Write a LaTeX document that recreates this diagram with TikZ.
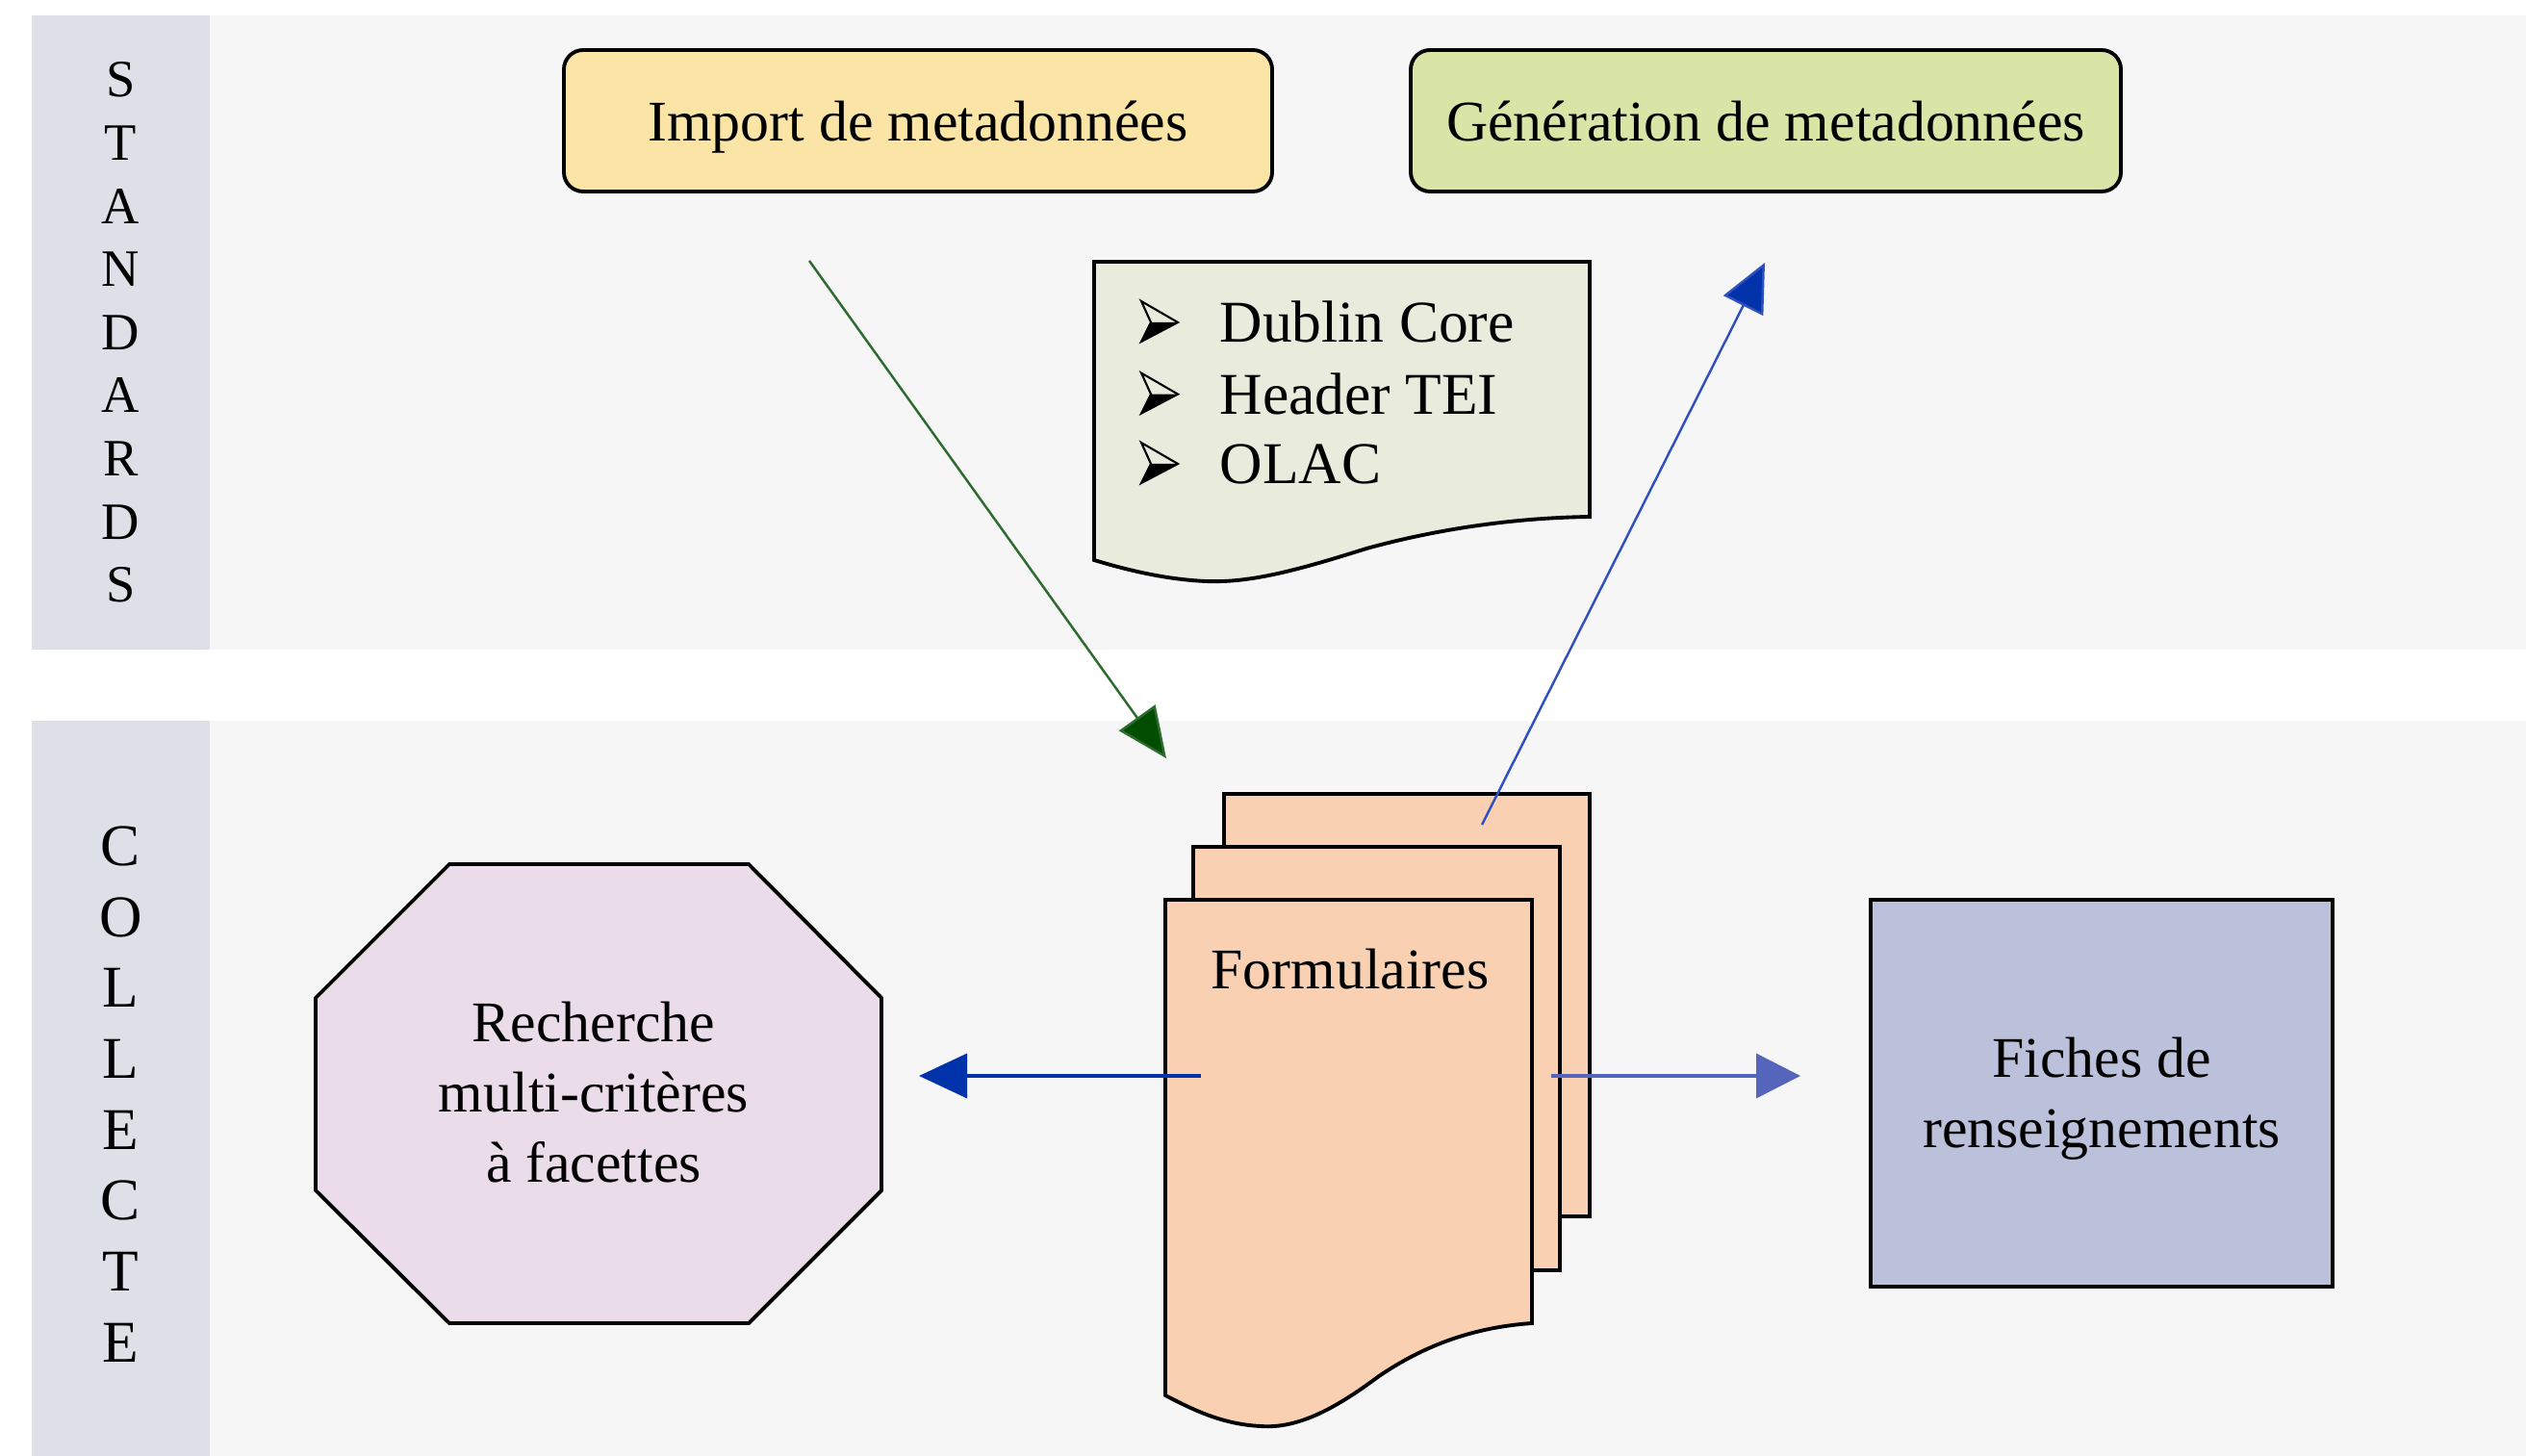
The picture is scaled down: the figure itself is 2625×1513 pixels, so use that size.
\documentclass[tikz,border=0pt]{standalone}
\usepackage{fontspec}
\setmainfont{Liberation Serif}
\usetikzlibrary{arrows.meta}
\definecolor{bandgray}{HTML}{F6F6F6}
\definecolor{colgray}{HTML}{DDE0E6}
\definecolor{importfill}{HTML}{FAE5A6}
\definecolor{genfill}{HTML}{D9E4A7}
\definecolor{docfill}{HTML}{E9EBDD}
\definecolor{formfill}{HTML}{F9D1B2}
\definecolor{octfill}{HTML}{EBDCEA}
\definecolor{fichefill}{HTML}{BCC1DB}
\definecolor{headgreen}{HTML}{004D00}
\definecolor{linegreen}{HTML}{2E6B2E}
\definecolor{headblue}{HTML}{0033AA}
\definecolor{lineblue}{HTML}{3050C0}
\definecolor{lightblue}{HTML}{5565BC}
\begin{document}
\begin{tikzpicture}[x=0.01cm,y=-0.01cm,
  shapeline/.style={draw=black,line width=1.1pt},
  lbl/.style={font=\fontsize{17}{20.8}\selectfont,inner sep=0pt,text=black},
  listlbl/.style={font=\fontsize{17.5}{21}\selectfont,inner sep=0pt,text=black},
  sidelbl/.style={inner sep=0pt,align=center,text=black},
  conn/.style={line width=0.7pt}
]
\fill[white] (0,0) rectangle (2625,1513);
\useasboundingbox (0,0) rectangle (2625,1513);
% bands
\fill[bandgray] (33,16) rectangle (2625,675);
\fill[bandgray] (33,749) rectangle (2625,1513);
\fill[colgray] (33,16) rectangle (218,675);
\fill[colgray] (33,749) rectangle (218,1513);
\node[sidelbl,font=\fontsize{15.5}{18.65}\selectfont] (standards) at (125.5,345.5) {S\\T\\A\\N\\D\\A\\R\\D\\S};
\node[sidelbl,font=\fontsize{17.5}{20.95}\selectfont] (collecte) at (125.5,1137) {C\\O\\L\\L\\E\\C\\T\\E};
% top boxes
\draw[shapeline,fill=importfill,rounded corners=0.2cm] (586,52) rectangle (1322,199);
\node[lbl,anchor=base] (import) at (954,147) {Import de metadonnées};
\draw[shapeline,fill=genfill,rounded corners=0.2cm] (1466,52) rectangle (2204,199);
\node[lbl,anchor=base] (generation) at (1835,147) {Génération de metadonnées};
% standards document
\draw[shapeline,fill=docfill] (1137,272) -- (1652,272) -- (1652,537)
  .. controls (1580,538) and (1500,548) .. (1420,570)
  .. controls (1350,592) and (1300,606) .. (1253,604)
  .. controls (1210,602) and (1170,592) .. (1137,582) -- cycle;
\foreach \yy/\nm/\txt in {356/dc/Dublin Core,430.6/tei/Header TEI,503/olac/OLAC}{
  % 3D arrowhead bullet
  \begin{scope}[shift={(1186,\yy-43)}]
    \fill[black] (10,22) -- (38,22) -- (0,42) -- cycle;
    \draw[black,line width=0.6pt,line join=miter] (0,0) -- (38,22) -- (0,42) -- (10,22) -- cycle;
  \end{scope}
  \node[listlbl,anchor=base west] (\nm) at (1267,\yy) {\txt};
}
% formulaires stack
\draw[shapeline,fill=formfill] (1272,825) rectangle (1652,1264);
\draw[shapeline,fill=formfill] (1240,880) rectangle (1621,1320);
\draw[shapeline,fill=formfill] (1211,935) -- (1592,935) -- (1592,1375)
  .. controls (1520,1380) and (1470,1405) .. (1433,1430)
  .. controls (1390,1462) and (1350,1485) .. (1310,1482)
  .. controls (1270,1480) and (1240,1465) .. (1211,1450) -- cycle;
\node[lbl,anchor=base] (formulaires) at (1403,1027) {Formulaires};
% octagon
\draw[shapeline,fill=octfill] (467,898) -- (778,898) -- (916,1037) -- (916,1237)
  -- (778,1375) -- (467,1375) -- (328,1237) -- (328,1037) -- cycle;
\node[lbl,align=center] (recherche) at (617,1135) {Recherche\\multi-critères\\à facettes};
% fiches
\draw[shapeline,fill=fichefill] (1944,935) rectangle (2424,1337);
\node[lbl,align=center] (fiches) at (2184,1141.5) {Fiches de\\renseignements};
% connector endpoints
\coordinate (gS) at (841,271);
\coordinate (gE) at (1212,788);
\coordinate (bS) at (1540,857);
\coordinate (bE) at (1834,273);
\coordinate (lS) at (1248,1118);
\coordinate (lE) at (955,1118);
\coordinate (rS) at (1612,1118);
\coordinate (rE) at (1871,1118);
\draw[conn,draw=linegreen,-{Triangle[length=0.52cm,width=0.46cm,fill=headgreen]}] (gS) -- (gE);
\draw[conn,draw=lineblue,-{Triangle[length=0.5cm,width=0.46cm,fill=headblue]}] (bS) -- (bE);
\draw[conn,line width=1pt,draw=headblue,-{Triangle[length=0.5cm,width=0.46cm,fill=headblue]}] (lS) -- (lE);
\draw[conn,line width=1pt,draw=lightblue,-{Triangle[length=0.46cm,width=0.46cm,fill=lightblue]}] (rS) -- (rE);
\end{tikzpicture}
\end{document}
